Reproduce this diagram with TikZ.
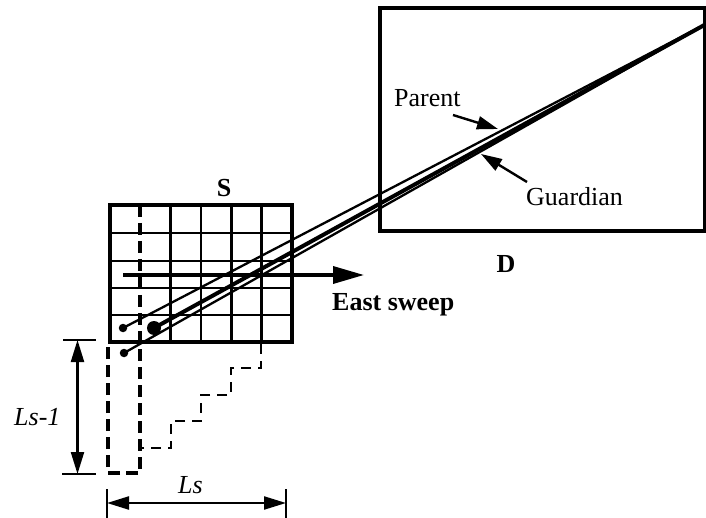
\documentclass[tikz,border=0pt]{standalone}
\usepackage{fontspec}
\setmainfont{Liberation Serif}
\usetikzlibrary{arrows.meta}
\begin{document}
\begin{tikzpicture}[x=1pt,y=-1pt,
  lbl/.style={font=\fontsize{26}{29}\selectfont, inner sep=0pt},
  bold lbl/.style={lbl, font=\fontsize{26}{29}\selectfont\bfseries},
  ital lbl/.style={lbl, font=\fontsize{26}{29}\selectfont\itshape},
  smalldot/.style={circle, fill=black, inner sep=0pt, minimum size=8.5pt},
  bigdot/.style={circle, fill=black, inner sep=0pt, minimum size=14pt},
  outer/.style={line width=4.3pt},
  gridline/.style={line width=2.8pt},
  colline/.style={line width=4pt, dash pattern=on 12pt off 6pt},
  stair/.style={line width=2.5pt, dash pattern=on 10pt off 7pt},
  dim/.style={line width=2.2pt},
  dimarrow/.style={line width=2.2pt, {Triangle[length=22pt,width=13pt]}-{Triangle[length=22pt,width=13pt]}},
  ray/.style={line width=2.3pt},
  thickray/.style={line width=4pt},
  pointer/.style={line width=2.4pt, -{Triangle[length=21pt,width=13pt]}},
  sweep/.style={line width=3.5pt, -{Triangle[length=31pt,width=17pt]}}]
\useasboundingbox (0,0) rectangle (706,518);
\fill[white] (0,0) rectangle (706,518);

% D box
\coordinate (D1) at (380,8);
\coordinate (D2) at (705,231);
\draw[outer] (D1) rectangle (D2);
\node[bold lbl] (Dlab) at (506,264) {D};

% grid S
\foreach \i in {2,...,5} {
  \draw[gridline] ({110+30.3*\i},205) -- ({110+30.3*\i},342);
}
\foreach \j/\y in {1/233,2/261,3/288,4/315} {
  \draw[gridline] (110,\y) -- (292,\y);
}
\coordinate (S1) at (110,205);
\coordinate (S2) at (292,342);
\draw[outer] (S1) rectangle (S2);
\node[bold lbl] (Slab) at (224,188) {S};

% dashed column
\coordinate (c1) at (140,205);
\coordinate (c2) at (140,473);
\coordinate (c3) at (108,473);
\coordinate (c4) at (108,344);
\draw[colline] (c1) -- (c2) -- (c3) -- (c4);

% staircase
\coordinate (st0) at (261,344);
\draw[stair] (st0) -- (261,368) -- (231,368) -- (231,395) -- (201,395)
  -- (201,421) -- (171,421) -- (171,448) -- (140,448);

% rays
\coordinate (P) at (708,23);
\node[smalldot] (da) at (123,328) {};
\node[bigdot] (db) at (154,328) {};
\node[smalldot] (dc) at (124,353) {};
\draw[ray] (da.center) -- (P);
\draw[thickray] (db.center) -- (P);
\draw[ray] (dc.center) -- (P);

% east sweep
\coordinate (e1) at (123,275);
\coordinate (e2) at (364,275);
\draw[sweep] (e1) -- (e2);
\node[bold lbl, anchor=base west] (East) at (332,310) {East sweep};

% Parent / Guardian
\node[lbl, anchor=base west] (Par) at (394,107) {Parent};
\node[lbl, anchor=base west] (Gua) at (526,206) {Guardian};
\coordinate (p1) at (453,115);
\coordinate (p2) at (498,129);
\draw[pointer] (p1) -- (p2);
\coordinate (g1) at (527,182);
\coordinate (g2) at (481,154);
\draw[pointer] (g1) -- (g2);

% dimension Ls-1
\coordinate (v1) at (63,340);
\coordinate (v2) at (96,340);
\coordinate (v3) at (62,474);
\coordinate (v4) at (96,474);
\draw[dim] (v1) -- (v2);
\draw[dim] (v3) -- (v4);
\coordinate (va) at (77.5,340);
\coordinate (vb) at (77.5,474);
\draw[dimarrow] (va) -- (vb);
\node[ital lbl, anchor=base west] (Lsm) at (14,425) {Ls-1};

% dimension Ls
\coordinate (h1) at (107,489);
\coordinate (h2) at (107,518);
\coordinate (h3) at (286,489);
\coordinate (h4) at (286,518);
\draw[dim] (h1) -- (h2);
\draw[dim] (h3) -- (h4);
\coordinate (ha) at (107,503);
\coordinate (hb) at (286,503);
\draw[dimarrow] (ha) -- (hb);
\node[ital lbl, anchor=base west] (Ls) at (178,493) {Ls};
\end{tikzpicture}
\end{document}
